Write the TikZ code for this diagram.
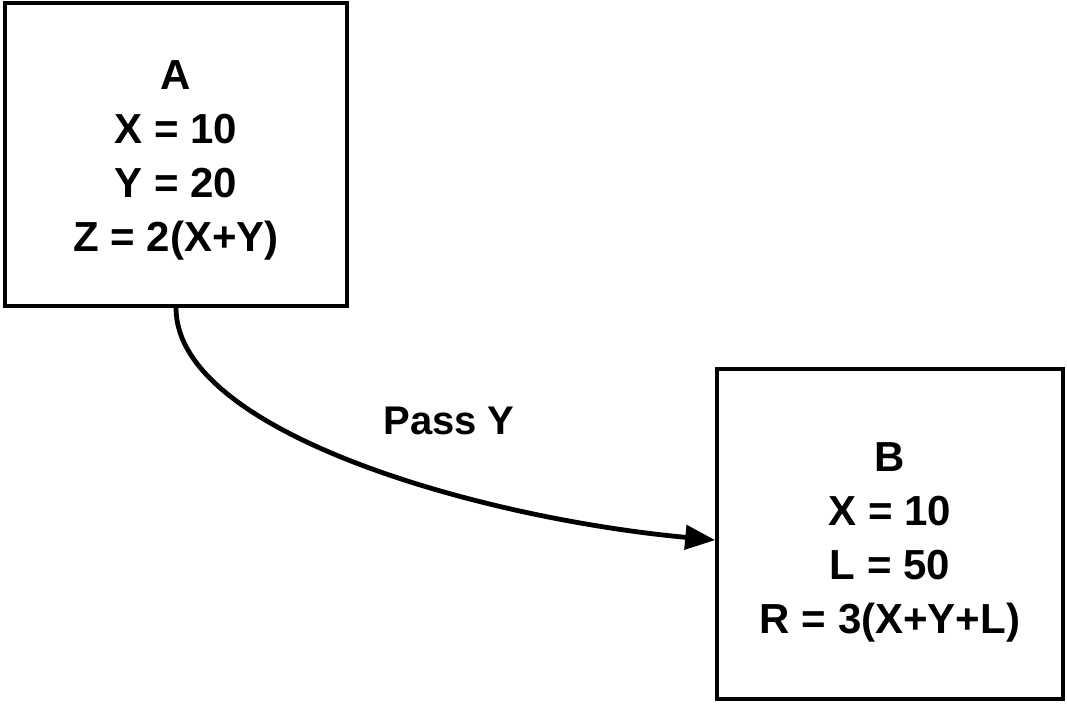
\documentclass[tikz,border=0pt]{standalone}
\usepackage{fontspec}
\setmainfont{Liberation Sans}
\usetikzlibrary{arrows.meta}

\begin{document}
\begin{tikzpicture}[
  x=0.5pt, y=0.5pt,
  font=\fontsize{21}{27}\selectfont\bfseries,
  varbox/.style={draw, rectangle, line width=1.8pt, align=center, inner sep=0pt},
  flow/.style={line width=2.4pt, -{Triangle[length=15pt, width=12pt]}}
]
\useasboundingbox (0,0) rectangle (1067,-704);

\node[varbox, minimum width=171pt, minimum height=151.5pt] (A) at (176,-154.5)
  {\rule{0pt}{20pt}A\\X = 10\\Y = 20\\Z = 2(X+Y)};
\node[varbox, minimum width=173pt, minimum height=165pt] (B) at (890,-534)
  {\rule{0pt}{23pt}B\\X = 10\\L = 50\\R = 3(X+Y+L)};
\node[font=\fontsize{20}{24}\selectfont\bfseries] (passlbl) at (449,-421) {Pass Y};

\draw[flow] (A.south) .. controls +(0,-124) and +(-237,22) .. (B.182.6);
\end{tikzpicture}
\end{document}
